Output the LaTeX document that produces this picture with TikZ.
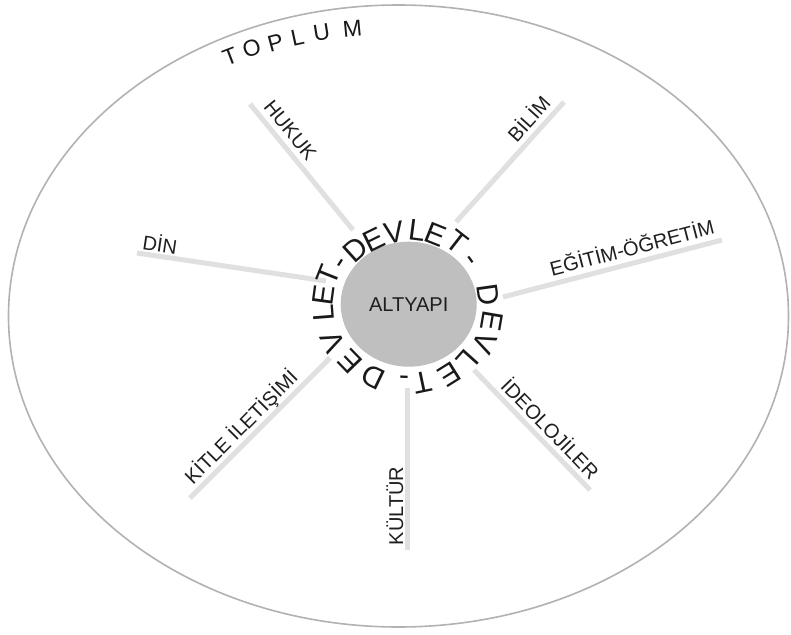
\documentclass[tikz,border=0pt]{standalone}
\usepackage{fontspec}
\setmainfont{Liberation Sans}
\usetikzlibrary{shapes.geometric}
\begin{document}
\begin{tikzpicture}[x=1pt,y=-1pt,
  spoke/.style={draw=black!12, line width=5pt},
  lbl/.style={font=\fontsize{20}{24}\selectfont, text=black!88, inner sep=0pt, text height=14.3pt, text depth=0pt, anchor=center},
  dv/.style={font=\fontsize{30}{36}\selectfont, text=black!90, inner sep=0pt, text height=21.5pt, text depth=0pt, anchor=center},
  dvh/.style={dv, text height=16.5pt},
  tp/.style={font=\fontsize{23}{28}\selectfont, text=black!90, inner sep=0pt, text height=16.5pt, text depth=0pt, anchor=center}]
\useasboundingbox (0,0) rectangle (791,634);
\fill[white] (0,0) rectangle (791,634);

% outer society ellipse
\node[ellipse, draw=black!30, line width=1.6pt, inner sep=0pt, minimum width=780pt, minimum height=622pt] (society) at (398.5,316) {};

% spokes
\coordinate (hukA) at (250,104);  \coordinate (hukB) at (353,230);
\coordinate (dinA) at (137,253);  \coordinate (dinB) at (326,281);
\coordinate (bilA) at (564,102);  \coordinate (bilB) at (456,222);
\coordinate (egtA) at (722,240);  \coordinate (egtB) at (503,297);
\coordinate (ideA) at (590,490);  \coordinate (ideB) at (474,370);
\coordinate (kulA) at (407,550);  \coordinate (kulB) at (407,388);
\coordinate (kitA) at (190,498);  \coordinate (kitB) at (330,358);
\draw[spoke] (hukA) -- (hukB);
\draw[spoke] (dinA) -- (dinB);
\draw[spoke] (bilA) -- (bilB);
\draw[spoke] (egtA) -- (egtB);
\draw[spoke] (ideA) -- (ideB);
\draw[spoke] (kulA) -- (kulB);
\draw[spoke] (kitA) -- (kitB);

% spoke labels
\node[lbl, rotate=-50.7] (hukL) at (290.5,130) {HUKUK};
\node[lbl, rotate=-8.4] (dinL) at (160,245) {DİN};
\node[lbl, rotate=48] (bilL) at (529,119) {BİLİM};
\node[lbl, rotate=14.6] (egtL) at (632,248) {EĞİTİM-ÖĞRETİM};
\node[lbl, rotate=-46] (ideL) at (550,429) {İDEOLOJİLER};
\node[lbl, rotate=90] (kulL) at (396,506) {KÜLTÜR};
\node[lbl, rotate=45] (kitL) at (241,427) {KİTLE İLETİŞİMİ};

% core
\node[ellipse, fill=black!25, inner sep=0pt, minimum width=136pt, minimum height=125pt, font=\fontsize{20}{24}\selectfont, text=black!88] (core) at (408.7,304.2) {ALTYAPI};

% DEVLET ring
\node[dv, rotate=42.1] (d1) at (355,249) {D};
\node[dv, rotate=26.1] (d2) at (374,239) {E};
\node[dv, rotate=9.9] (d3) at (394,232) {V};
\node[dv, rotate=-7.4] (d4) at (417,230) {L};
\node[dv, rotate=-21.8] (d5) at (436,234) {E};
\node[dv, rotate=-37.8] (d6) at (457,242) {T};
\node[dvh, rotate=-54] (d7) at (471,260) {-};
\node[dv, rotate=-82] (d8) at (489,295) {D};
\node[dv, rotate=-99.7] (d9) at (492,321) {E};
\node[dv, rotate=-115.1] (d10) at (485,343) {V};
\node[dv, rotate=-131.8] (d11) at (468,361) {L};
\node[dv, rotate=-147.9] (d12) at (450,375) {E};
\node[dv, rotate=-168.2] (d13) at (423,383) {T};
\node[dvh, rotate=177.6] (d14) at (404,378) {-};
\node[dv, rotate=154.3] (d15) at (373,377) {D};
\node[dv, rotate=134.2] (d16) at (350,362) {E};
\node[dv, rotate=115.3] (d17) at (332,342) {V};
\node[dv, rotate=94.4] (d18) at (323,313) {L};
\node[dv, rotate=82.2] (d19) at (323,295) {E};
\node[dv, rotate=68.3] (d20) at (328,275) {T};
\node[dvh, rotate=57] (d21) at (340,263) {-};

% TOPLUM
\node[tp, rotate=20.9] (t1) at (230,56) {T};
\node[tp, rotate=18.0] (t2) at (251.7,48.3) {O};
\node[tp, rotate=14.9] (t3) at (275.5,42.5) {P};
\node[tp, rotate=12.1] (t4) at (297.5,37.5) {L};
\node[tp, rotate=9.1] (t5) at (321.5,32.5) {U};
\node[tp, rotate=5.4] (t6) at (352.5,28) {M};
\end{tikzpicture}
\end{document}
